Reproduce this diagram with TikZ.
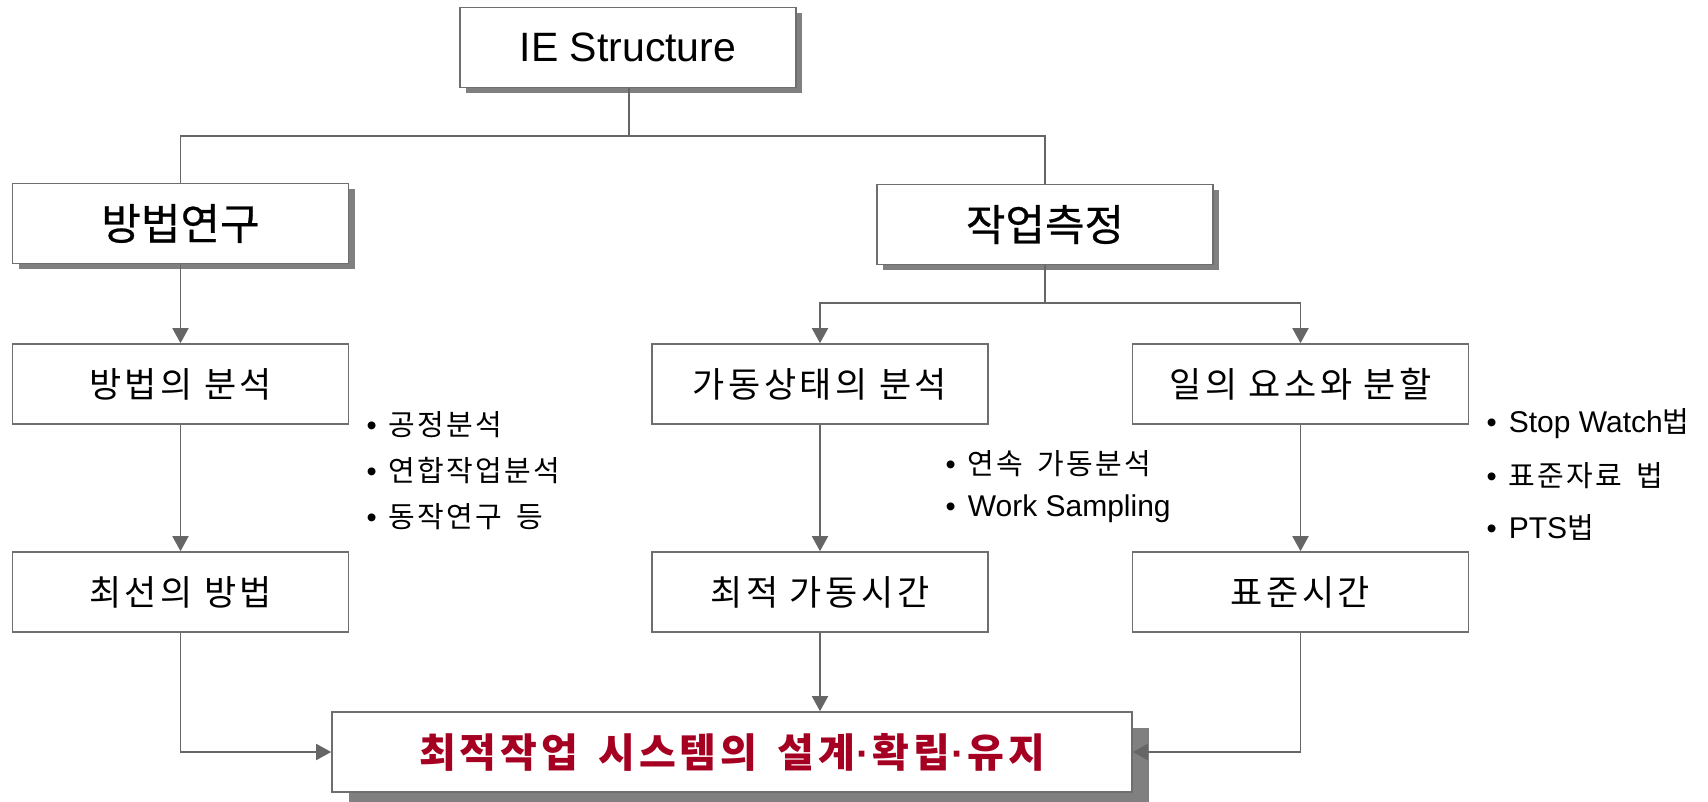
\documentclass[tikz,border=0pt]{standalone}
\usepackage{fontspec}
\setmainfont{Noto Sans CJK KR}
\newfontfamily\lat{Liberation Sans}
\newfontfamily\krsp[LetterSpace=10,WordSpace=1.6]{Noto Sans CJK KR}
\newfontfamily\krhead[FakeBold=0.6]{Noto Sans CJK KR}
\newfontfamily\kritem[LetterSpace=8,WordSpace=1.6]{Noto Sans CJK KR}
\newfontfamily\krbig[LetterSpace=10]{Noto Sans CJK KR}
\usetikzlibrary{arrows.meta,shadows}
\definecolor{linegray}{HTML}{666666}
\definecolor{boxgray}{HTML}{6E6E6E}
\definecolor{shadowgray}{HTML}{808080}
\definecolor{darkred}{HTML}{A50021}
\newcommand{\bul}{{\lat •}\hspace{12pt}}
\newcommand{\mdot}{\hspace{1pt}{\lat\bfseries ·}\hspace{3pt}}
\tikzset{
  box/.style={draw=boxgray, line width=1.6pt, fill=white, minimum width=336pt, minimum height=80pt, inner sep=0pt},
  shbox/.style={box, drop shadow={shadow xshift=6pt, shadow yshift=-6pt, fill=shadowgray, opacity=1}},
  bigshbox/.style={box, drop shadow={shadow xshift=17pt, shadow yshift=-16pt, fill=shadowgray, opacity=1}},
  rowtext/.style={font=\krsp\fontsize{35}{40}\selectfont},
  conn/.style={draw=linegray, line width=1.8pt},
  arr/.style={conn, -{Triangle[width=16pt,length=15pt]}},
  item/.style={anchor=base west, inner sep=0pt, font=\kritem\fontsize{29}{34}\selectfont}
}
\begin{document}
\begin{tikzpicture}[x=1pt,y=-1pt]
\useasboundingbox (0,0) rectangle (1708,802);
% top level
\node[shbox, font=\lat\fontsize{41}{48}\selectfont] (ie) at (628,47.5) {IE Structure};
\node[shbox, font=\krhead\fontsize{43}{48}\selectfont] (bb) at (180.5,223.5) {방법연구};
\node[shbox, font=\krhead\fontsize{43}{48}\selectfont] (jc) at (1045,224.5) {작업측정};
% second row
\node[box, rowtext] (ba) at (180.5,384) {방법의 분석};
\node[box, rowtext] (ga) at (820,384) {가동상태의 분석};
\node[box, rowtext] (il) at (1300.5,384) {일의 요소와 분할};
% third row
\node[box, rowtext] (cs) at (180.5,592) {최선의 방법};
\node[box, rowtext] (ct) at (820,592) {최적 가동시간};
\node[box, rowtext] (st) at (1300.5,592) {표준시간};
% bottom
\node[bigshbox, minimum width=800pt, text=darkred, font=\krbig\bfseries\fontsize{40}{46}\selectfont] (fin) at (732,752) {최적작업\hspace{20pt}시스템의\hspace{20pt}설계\mdot 확립\mdot 유지};
% bullet lists
\node[item] (l1a) at (366.5,435) {\bul 공정분석};
\node[item] (l1b) at (366.5,481) {\bul 연합작업분석};
\node[item] (l1c) at (366.5,527) {\bul 동작연구 등};
\node[item] (l2a) at (945.5,474) {\bul 연속 가동분석};
\node[item] (l2b) at (945.5,516) {\bul {\lat\fontsize{30}{34}\selectfont Work Sampling}};
\node[item] (l3a) at (1486.5,432) {\bul {\lat\fontsize{30}{34}\selectfont Stop Watch}법};
\node[item] (l3b) at (1486.5,486) {\bul 표준자료 법};
\node[item] (l3c) at (1486.5,538) {\bul {\lat\fontsize{30}{34}\selectfont PTS}법};
% connectors
\coordinate (hb) at (629,136);
\coordinate (jb) at (1045,303);
\draw[conn] (ie.south -| hb) -- (hb);
\draw[conn] (bb.north) |- (hb) -| (jc.north);
\draw[arr] (bb.south) -- (ba.north);
\draw[conn] (jc.south) -- (jb);
\draw[arr] (jb) -| (ga.north);
\draw[arr] (jb) -| (il.north);
\draw[arr] (ba.south) -- (cs.north);
\draw[arr] (ga.south) -- (ct.north);
\draw[arr] (il.south) -- (st.north);
\draw[arr] (cs.south) |- (fin.west);
\draw[arr] (ct.south) -- (ct.south |- fin.north);
\draw[arr] (st.south) |- (fin.east);
\end{tikzpicture}
\end{document}
